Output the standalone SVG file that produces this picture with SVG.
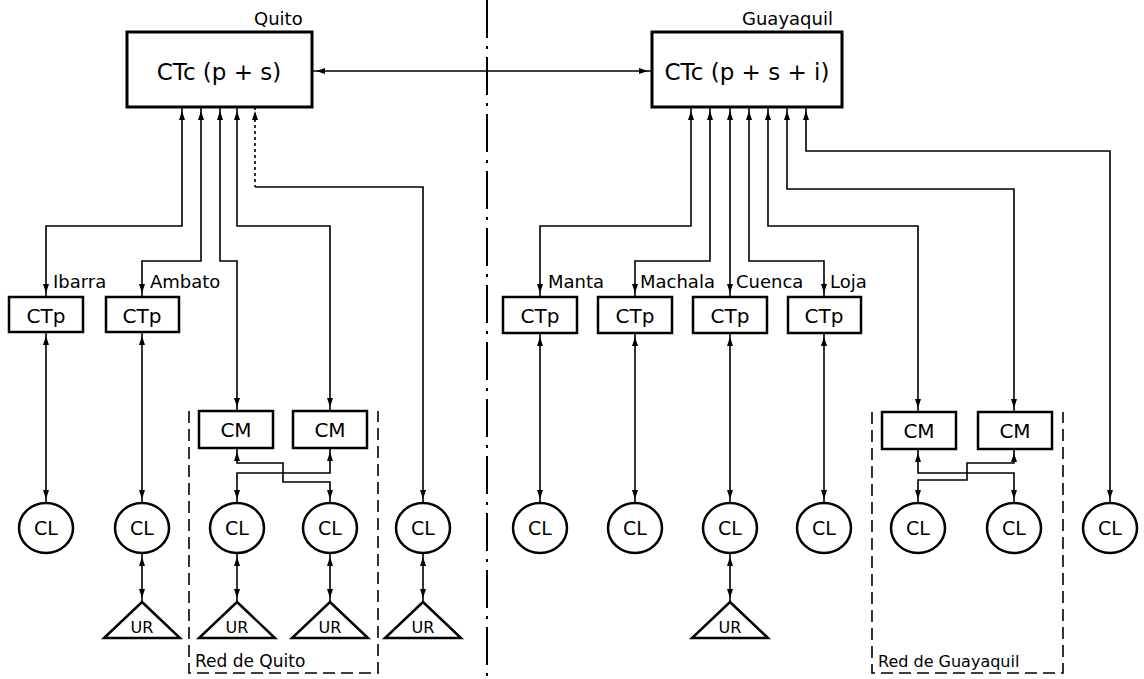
<svg xmlns="http://www.w3.org/2000/svg" width="1144" height="679" viewBox="0 0 1144 679">
<style>
.box{fill:#fff;stroke:#000;stroke-width:2.5}
.big{fill:#fff;stroke:#000;stroke-width:3}
.cl{fill:#fff;stroke:#000;stroke-width:2.5}
.ur{fill:#fff;stroke:#000;stroke-width:2.5;stroke-linejoin:miter}
.t{font-family:"DejaVu Sans",sans-serif;fill:#000;text-anchor:middle}
.lbl{font-family:"DejaVu Sans",sans-serif;fill:#000;font-size:18px}
.c{fill:none;stroke:#000;stroke-width:1.6;marker-start:url(#a);marker-end:url(#a)}
.ce{fill:none;stroke:#000;stroke-width:1.6;marker-end:url(#a)}
.red{fill:none;stroke:#000;stroke-width:1.6;stroke-dasharray:12 6}
</style>
<defs>
<marker id="a" viewBox="-20 -6 22 12" refX="0" refY="0" markerWidth="22" markerHeight="12" markerUnits="userSpaceOnUse" orient="auto-start-reverse" overflow="visible">
<path d="M-4,0 L-13,-3 L-13,3 z" fill="#000"/>
</marker>
</defs>
<rect width="1144" height="679" fill="#fff"/>

<!-- divider -->
<line x1="487" y1="0" x2="487" y2="679" stroke="#000" stroke-width="2" stroke-dasharray="38 8 3 8"/>

<!-- networks -->
<g id="red-quito">
<path class="red" d="M189,411 V673 H378 V411"/>
<text class="lbl" x="195" y="667" style="font-size:17px">Red de Quito</text>
</g>
<g id="red-guayaquil">
<path class="red" d="M872,412 V673 H1063 V412"/>
<text class="lbl" x="878" y="667" style="font-size:16px">Red de Guayaquil</text>
</g>

<g id="connectors">
<path class="c" d="M312,71 H652"/>
<!-- Quito -->
<path class="c" d="M182,107 V226 H46 V297"/>
<path class="c" d="M201,107 V261 H142 V297"/>
<path class="c" d="M220,107 V261 H237 V411"/>
<path class="c" d="M237,107 V226 H330 V411"/>
<path fill="none" stroke="#000" stroke-width="1.6" stroke-dasharray="3 3" style="marker-start:url(#a)" d="M255,107 V187"/>
<path class="ce" d="M255,187 H423 V503"/>
<path class="c" d="M46,332 V503"/>
<path class="c" d="M142,332 V503"/>
<path class="c" d="M237,448 V463 H283 V482 H330 V503"/>
<path class="c" d="M330,448 V473 H237 V503"/>
<path class="c" d="M142,553 V602"/>
<path class="c" d="M237,553 V602"/>
<path class="c" d="M330,553 V602"/>
<path class="c" d="M423,553 V602"/>
<!-- Guayaquil -->
<path class="c" d="M691,107 V226 H540 V297"/>
<path class="c" d="M710,107 V261 H635 V297"/>
<path class="c" d="M730,107 V297"/>
<path class="c" d="M749,107 V261 H824 V297"/>
<path class="c" d="M768,107 V226 H918 V412"/>
<path class="c" d="M787,107 V189 H1014 V412"/>
<path class="c" d="M806,107 V151 H1110 V503"/>
<path class="c" d="M540,333 V503"/>
<path class="c" d="M635,333 V503"/>
<path class="c" d="M730,333 V503"/>
<path class="c" d="M824,333 V503"/>
<path class="c" d="M918,449 V473 H1014 V503"/>
<path class="c" d="M1014,449 V463 H967 V480 H918 V503"/>
<path class="c" d="M730,553 V602"/>
</g>

<!-- central offices -->
<g id="ctc-quito">
<rect class="big" x="127" y="32" width="185" height="75"/>
<text class="t" x="219" y="80" style="font-size:23px">CTc (p + s)</text>
<text class="lbl" x="254" y="25">Quito</text>
</g>
<g id="ctc-guayaquil">
<rect class="big" x="652" y="32" width="190" height="75"/>
<text class="t" x="747" y="80" style="font-size:23px">CTc (p + s + i)</text>
<text class="lbl" x="742" y="25">Guayaquil</text>
</g>

<!-- CTp -->
<g id="ctp-ibarra">
<rect class="box" x="9" y="297" width="74" height="35"/>
<text class="t" x="46" y="323" style="font-size:20px">CTp</text>
<text class="lbl" x="53" y="288">Ibarra</text>
</g>
<g id="ctp-ambato">
<rect class="box" x="106" y="297" width="73" height="35"/>
<text class="t" x="142" y="323" style="font-size:20px">CTp</text>
<text class="lbl" x="150" y="288">Ambato</text>
</g>
<g id="ctp-manta">
<rect class="box" x="503" y="297" width="74" height="36"/>
<text class="t" x="540" y="323" style="font-size:20px">CTp</text>
<text class="lbl" x="548" y="288">Manta</text>
</g>
<g id="ctp-machala">
<rect class="box" x="598" y="297" width="74" height="36"/>
<text class="t" x="635" y="323" style="font-size:20px">CTp</text>
<text class="lbl" x="640" y="288">Machala</text>
</g>
<g id="ctp-cuenca">
<rect class="box" x="693" y="297" width="74" height="36"/>
<text class="t" x="730" y="323" style="font-size:20px">CTp</text>
<text class="lbl" x="736" y="288">Cuenca</text>
</g>
<g id="ctp-loja">
<rect class="box" x="788" y="297" width="73" height="36"/>
<text class="t" x="824" y="323" style="font-size:20px">CTp</text>
<text class="lbl" x="830" y="288">Loja</text>
</g>

<!-- CM -->
<g id="cm-q1"><rect class="box" x="199" y="411" width="74" height="37"/><text class="t" x="236" y="437" style="font-size:20px">CM</text></g>
<g id="cm-q2"><rect class="box" x="293" y="411" width="74" height="37"/><text class="t" x="330" y="437" style="font-size:20px">CM</text></g>
<g id="cm-g1"><rect class="box" x="882" y="412" width="74" height="37"/><text class="t" x="919" y="438" style="font-size:20px">CM</text></g>
<g id="cm-g2"><rect class="box" x="978" y="412" width="74" height="37"/><text class="t" x="1015" y="438" style="font-size:20px">CM</text></g>

<!-- CL -->
<g id="cl-1"><ellipse class="cl" cx="46" cy="528" rx="27" ry="25"/><text class="t" x="46" y="535" style="font-size:19px">CL</text></g>
<g id="cl-2"><ellipse class="cl" cx="142" cy="528" rx="27" ry="25"/><text class="t" x="142" y="535" style="font-size:19px">CL</text></g>
<g id="cl-3"><ellipse class="cl" cx="237" cy="528" rx="27" ry="25"/><text class="t" x="237" y="535" style="font-size:19px">CL</text></g>
<g id="cl-4"><ellipse class="cl" cx="330" cy="528" rx="27" ry="25"/><text class="t" x="330" y="535" style="font-size:19px">CL</text></g>
<g id="cl-5"><ellipse class="cl" cx="423" cy="528" rx="27" ry="25"/><text class="t" x="423" y="535" style="font-size:19px">CL</text></g>
<g id="cl-6"><ellipse class="cl" cx="540" cy="528" rx="27" ry="25"/><text class="t" x="540" y="535" style="font-size:19px">CL</text></g>
<g id="cl-7"><ellipse class="cl" cx="635" cy="528" rx="27" ry="25"/><text class="t" x="635" y="535" style="font-size:19px">CL</text></g>
<g id="cl-8"><ellipse class="cl" cx="730" cy="528" rx="27" ry="25"/><text class="t" x="730" y="535" style="font-size:19px">CL</text></g>
<g id="cl-9"><ellipse class="cl" cx="824" cy="528" rx="27" ry="25"/><text class="t" x="824" y="535" style="font-size:19px">CL</text></g>
<g id="cl-10"><ellipse class="cl" cx="918" cy="528" rx="27" ry="25"/><text class="t" x="918" y="535" style="font-size:19px">CL</text></g>
<g id="cl-11"><ellipse class="cl" cx="1014" cy="528" rx="27" ry="25"/><text class="t" x="1014" y="535" style="font-size:19px">CL</text></g>
<g id="cl-12"><ellipse class="cl" cx="1110" cy="528" rx="27" ry="25"/><text class="t" x="1110" y="535" style="font-size:19px">CL</text></g>

<!-- UR -->
<g id="ur-1"><polygon class="ur" points="142,602 180,638 104,638"/><text class="t" x="142" y="633" style="font-size:16px">UR</text></g>
<g id="ur-2"><polygon class="ur" points="237,602 275,638 199,638"/><text class="t" x="237" y="633" style="font-size:16px">UR</text></g>
<g id="ur-3"><polygon class="ur" points="330,602 368,638 292,638"/><text class="t" x="330" y="633" style="font-size:16px">UR</text></g>
<g id="ur-4"><polygon class="ur" points="423,602 461,638 385,638"/><text class="t" x="423" y="633" style="font-size:16px">UR</text></g>
<g id="ur-5"><polygon class="ur" points="730,602 768,638 692,638"/><text class="t" x="730" y="633" style="font-size:16px">UR</text></g>
</svg>
